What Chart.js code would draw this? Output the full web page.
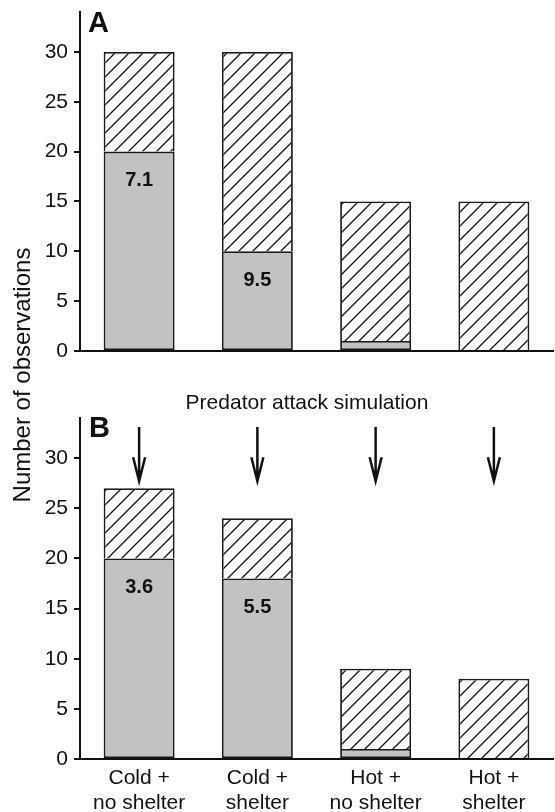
<!DOCTYPE html>
<html lang="en">
<head>
<meta charset="UTF-8">
<title>Predator attack simulation</title>
<script src="https://cdn.jsdelivr.net/npm/chart.js@4"></script>
<style>
  body {
    margin: 0;
    width: 555px;
    height: 812px;
    position: relative;
    overflow: hidden;
    background: #fff;
    font-family: Arial, "Liberation Sans", sans-serif;
    color: #111;
  }
  canvas { position: absolute; left: 0; }
  #chartA { top: 0; }
  #chartB { top: 400px; }
  .txt { position: absolute; white-space: nowrap; }
  .panel { font-weight: bold; font-size: 29px; line-height: 29px; }
  #yTitle {
    left: -128px; top: 363px; width: 300px;
    font-size: 24px; line-height: 24px; text-align: center;
    transform: rotate(-90deg);
  }
  #midTitle {
    left: 107px; top: 391px; width: 400px;
    font-size: 21px; line-height: 21px; text-align: center;
  }
</style>
</head>
<body>
  <canvas id="chartA" width="555" height="360"></canvas>
  <canvas id="chartB" width="555" height="412"></canvas>

  <div class="txt panel" style="left:88px; top:8px;">A</div>
  <div class="txt panel" style="left:89px; top:413px;">B</div>
  <div class="txt" id="yTitle">Number of observations</div>
  <div class="txt" id="midTitle">Predator attack simulation</div>

<script>
  // categories (shown under panel B only)
  const categories = [['Cold +', 'no shelter'], ['Cold +', 'shelter'], ['Hot +', 'no shelter'], ['Hot +', 'shelter']];

  // panel A: grey part + hatched part
  const greyA = [20, 10, 1, 0];
  const hatchA = [10, 20, 14, 15];
  const valuesA = ['7.1', '9.5', '', ''];

  // panel B (after predator attack simulation)
  const greyB = [20, 18, 1, 0];
  const hatchB = [7, 6, 8, 8];
  const valuesB = ['3.6', '5.5', '', ''];

  const yTicks = [0, 5, 10, 15, 20, 25, 30];

  const FONT = 'Arial, "Liberation Sans", sans-serif';

  // diagonal hatch pattern
  function makeHatch() {
    const c = document.createElement('canvas');
    c.width = 14; c.height = 14;
    const g = c.getContext('2d');
    g.fillStyle = '#fff';
    g.fillRect(0, 0, 14, 14);
    g.strokeStyle = '#111';
    g.lineWidth = 1.3;
    g.beginPath();
    g.moveTo(-1, 15); g.lineTo(15, -1);
    g.moveTo(-8, 8); g.lineTo(8, -8);
    g.moveTo(6, 22); g.lineTo(22, 6);
    g.stroke();
    return g.createPattern(c, 'repeat');
  }
  const hatch = makeHatch();

  const valueLabels = {
    id: 'valueLabels',
    afterDatasetsDraw(chart, args, opts) {
      const meta = chart.getDatasetMeta(0);
      const ctx = chart.ctx;
      ctx.save();
      ctx.font = 'bold 20px ' + FONT;
      ctx.fillStyle = '#111';
      ctx.textAlign = 'center';
      ctx.textBaseline = 'middle';
      (opts.labels || []).forEach((t, i) => {
        if (!t) return;
        const bar = meta.data[i];
        ctx.fillText(t, bar.x, bar.y + 29);
      });
      ctx.restore();
    }
  };

  const arrows = {
    id: 'arrows',
    afterDraw(chart, args, opts) {
      if (!opts.show) return;
      const ctx = chart.ctx;
      const xs = chart.scales.x, ys = chart.scales.y;
      const top = ys.getPixelForValue(33.1);
      const tip = ys.getPixelForValue(27.7);
      ctx.save();
      ctx.strokeStyle = '#111';
      ctx.lineWidth = 2.5;
      ctx.lineJoin = 'miter';
      categories.forEach((c, i) => {
        const x = xs.getPixelForValue(i);
        ctx.beginPath();
        ctx.moveTo(x, top);
        ctx.lineTo(x, tip);
        ctx.moveTo(x - 6, tip - 24);
        ctx.lineTo(x, tip);
        ctx.lineTo(x + 6, tip - 24);
        ctx.stroke();
      });
      ctx.restore();
    }
  };

  function makeChart(id, grey, hatched, values, opts) {
    return new Chart(document.getElementById(id), {
      type: 'bar',
      data: {
        labels: categories,
        datasets: [{
          data: grey,
          backgroundColor: '#c2c2c2',
          borderColor: '#1a1a1a',
          borderWidth: 1.8,
          borderSkipped: false
        }, {
          data: hatched,
          backgroundColor: hatch,
          borderColor: '#1a1a1a',
          borderWidth: 1.8,
          borderSkipped: 'start'
        }]
      },
      options: {
        responsive: false,
        animation: false,
        layout: { padding: { top: opts.top, right: 2, left: 0, bottom: 0 } },
        datasets: { bar: { barPercentage: 0.6, categoryPercentage: 1.0 } },
        plugins: {
          legend: { display: false },
          tooltip: { enabled: false },
          valueLabels: { labels: values },
          arrows: { show: opts.arrows }
        },
        scales: {
          x: {
            stacked: true,
            grid: { display: false, drawTicks: false },
            border: { display: true, color: '#111', width: 2 },
            ticks: {
              display: opts.showLabels,
              color: '#111',
              padding: 6.5,
              font: { family: FONT, size: 21, lineHeight: 25 / 21 },
              maxRotation: 0
            },
            afterFit(scale) {
              scale.height = opts.xHeight;
              scale.paddingLeft = 0; scale.paddingRight = 0;
            }
          },
          y: {
            stacked: true,
            min: 0,
            max: 34,
            afterBuildTicks(scale) {
              scale.ticks = yTicks.map(v => ({ value: v }));
            },
            grid: { display: true, drawOnChartArea: false, drawTicks: true, tickLength: 6, tickColor: '#111', lineWidth: 2 },
            border: { display: true, color: '#111', width: 2 },
            ticks: {
              color: '#111',
              padding: 6,
              font: { family: FONT, size: 21 }
            },
            afterFit(scale) {
              scale.width = 80;
              scale.paddingTop = 0; scale.paddingBottom = 0;
            }
          }
        }
      },
      plugins: [valueLabels, arrows]
    });
  }

  makeChart('chartA', greyA, hatchA, valuesA, { top: 12, xHeight: 9, showLabels: false, arrows: false });
  makeChart('chartB', greyB, hatchB, valuesB, { top: 18, xHeight: 53, showLabels: true, arrows: true });
</script>
</body>
</html>
